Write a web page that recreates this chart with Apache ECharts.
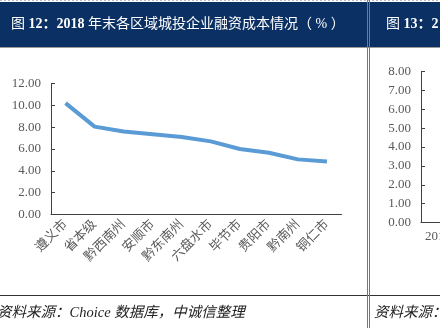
<!DOCTYPE html>
<html><head><meta charset="utf-8">
<style>html,body{margin:0;padding:0;background:#fff;}#c{width:440px;height:328px;}</style>
<script src="https://cdn.jsdelivr.net/npm/echarts@6/dist/echarts.min.js"></script>
</head><body><div id="c"></div>
<script>
const categories = ["遵义市","省本级","黔西南州","安顺市","黔东南州","六盘水市","毕节市","贵阳市","黔南州","铜仁市"];
const costValues = [10.2, 8.05, 7.6, 7.35, 7.1, 6.7, 6.0, 5.65, 5.05, 4.85];
const rightCategories = ["2014","2015","2016","2017","2018"];
const title1a = "图 ";
const title1b = "12：2018";
const title1c = " 年末各区域城投企业融资成本情况（ % ）";
const title2a = "图 ";
const title2b = "13：2";
const source1 = "资料来源：Choice 数据库，中诚信整理";
const source2 = "资料来源：";

const serif = "'Liberation Serif','Noto Sans CJK SC',serif";
const chart = echarts.init(document.getElementById('c'), null, {renderer:'canvas'});
const titleRich = {
  n:{fill:'#fff', font:"14px "+serif},
  b:{fill:'#fff', font:"bold 14px "+serif}
};
chart.setOption({
  animation:false,
  backgroundColor:'#fff',
  graphic:[
    {type:'rect', shape:{x:0,y:2,width:440,height:45}, style:{fill:'#0b3164'}},
    {type:'line', shape:{x1:0,y1:0.5,x2:440,y2:0.5}, style:{stroke:'#bbb',lineWidth:1,lineDash:[2,2]}},
    {type:'line', shape:{x1:0,y1:47.5,x2:440,y2:47.5}, style:{stroke:'#999',lineWidth:1}},
    {type:'text', x:11, y:24, style:{text:'{n|'+title1a+'}{b|'+title1b+'}{n|'+title1c+'}', rich:titleRich, textVerticalAlign:'middle'}},
    {type:'text', x:386, y:24, style:{text:'{n|'+title2a+'}{b|'+title2b+'}', rich:titleRich, textVerticalAlign:'middle'}},
    {type:'line', shape:{x1:0,y1:295.5,x2:440,y2:295.5}, style:{stroke:'#333',lineWidth:1}},
    {type:'line', shape:{x1:367.5,y1:0,x2:367.5,y2:328}, style:{stroke:'#777',lineWidth:1}},
    {type:'line', shape:{x1:369.5,y1:0,x2:369.5,y2:328}, style:{stroke:'#777',lineWidth:1}},
    {type:'text', x:-3, y:313, style:{text:source1, fill:'#222', font:"italic 14.5px "+serif, textVerticalAlign:'middle'}},
    {type:'text', x:374, y:313, style:{text:source2, fill:'#222', font:"italic 14.5px "+serif, textVerticalAlign:'middle'}}
  ],
  grid:[
    {left:51, top:83.5, width:290.5, height:131, containLabel:false, outerBoundsMode:'none'},
    {left:421, top:71.5, width:170, height:151, containLabel:false, outerBoundsMode:'none'}
  ],
  xAxis:[
    {gridIndex:0, type:'category', data:categories, boundaryGap:true,
     axisLine:{lineStyle:{color:'#404040',width:1}},
     axisTick:{inside:true,length:4,lineStyle:{color:'#404040'}},
     axisLabel:{rotate:45, margin:8, color:'#595959', fontSize:13, fontFamily:serif, interval:0}},
    {gridIndex:1, type:'category', data:rightCategories, boundaryGap:true,
     axisLine:{lineStyle:{color:'#404040',width:1}},
     axisTick:{show:false},
     axisLabel:{margin:8, color:'#595959', fontSize:13, fontFamily:serif, interval:0}}
  ],
  yAxis:[
    {gridIndex:0, type:'value', min:0, max:12, interval:2,
     axisLine:{show:true,lineStyle:{color:'#404040',width:1}},
     axisTick:{show:true,inside:true,length:4,lineStyle:{color:'#404040'}},
     splitLine:{show:false},
     axisLabel:{margin:10, color:'#595959', fontSize:13, fontFamily:serif, formatter:v=>v.toFixed(2)}},
    {gridIndex:1, type:'value', min:0, max:8, interval:1,
     axisLine:{show:true,lineStyle:{color:'#404040',width:1}},
     axisTick:{show:true,inside:true,length:4,lineStyle:{color:'#404040'}},
     splitLine:{show:false},
     axisLabel:{margin:10, color:'#595959', fontSize:13, fontFamily:serif, formatter:v=>v.toFixed(2)}}
  ],
  series:[
    {type:'line', xAxisIndex:0, yAxisIndex:0, data:costValues, symbol:'none',
     lineStyle:{color:'#5b9bd5', width:4}}
  ]
});
</script></body></html>
